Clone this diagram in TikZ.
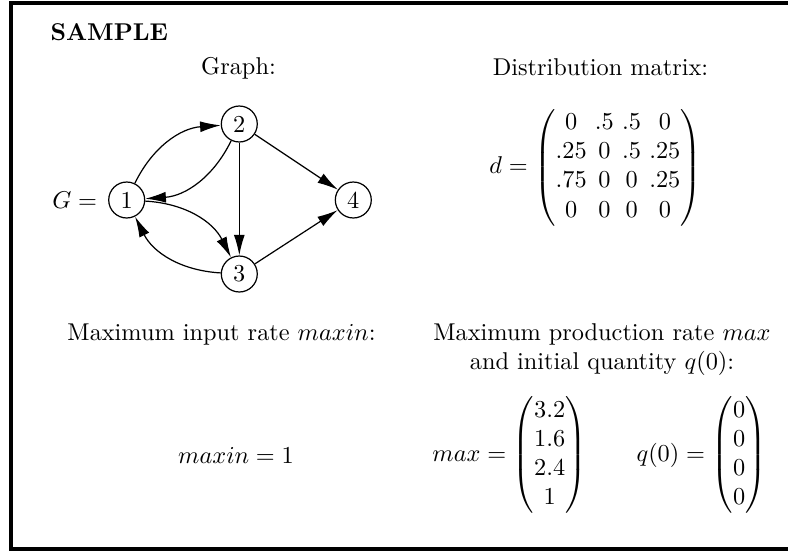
\documentclass[tikz,border=0pt]{standalone}
\usepackage{tikz}
\usetikzlibrary{positioning,arrows.meta}
\usepackage{amsmath,amssymb}

\begin{document}
\begin{tikzpicture}[
        x=0.4115pt, y=-0.4115pt,
        vertex/.style={circle, draw, line width=0.5pt, inner sep=0pt, minimum size=14.8pt},
        heading/.style={anchor=base},
        arc/.style={->, line width=0.5pt},
        >={Latex[length=8.5pt, width=4.5pt]},
        bend angle=30
    ]
    \useasboundingbox (0,0) rectangle (788,552);

    % Frame
    \draw[line width=1.3pt] (788,3) -- (11,3) -- (11,549) -- (788,549);
    \node[anchor=west, font=\bfseries] (title) at (42,32.5) {SAMPLE};

    % Top left - graph
    \node[heading] (graphhead) at (238.5,74) {Graph:};
    \node[vertex] (v1) at (126.7,200) {1};
    \node[vertex] (v2) at (239.3,124) {2};
    \node[vertex] (v3) at (239.3,274) {3};
    \node[vertex] (v4) at (353.3,200) {4};
    \node[left=1pt of v1] (geq) {$G =$};
    \draw[arc, bend left] (v1) to (v2);
    \draw[arc, bend left] (v2) to (v1);
    \draw[arc, bend left] (v1) to (v3);
    \draw[arc, bend left] (v3) to (v1);
    \draw[arc] (v2) -- (v3);
    \draw[arc] (v2) -- (v4);
    \draw[arc] (v3) -- (v4);

    % Top right - distribution matrix
    \node[heading] (matrixhead) at (600.5,75) {Distribution matrix:};
    \node (dmat) at (595.5,167.5) {\setlength{\arraycolsep}{1.7pt}$d = \begin{pmatrix}
        0 & .5 & .5 & 0\\
        .25 & 0 & .5 & .25\\
        .75 & 0 & 0 & .25\\
        0 & 0 & 0 & 0
    \end{pmatrix}$};

    % Bottom left - input rate
    \node[heading] (inhead) at (221.5,340) {Maximum input rate $maxin$:};
    \node[heading] (maxin) at (236,463) {$maxin = 1$};

    % Bottom right - production rate and initial quantity
    \node[heading] (prodhead) at (602,340) {Maximum production rate $max$};
    \node[heading] (qhead) at (602,369) {and initial quantity $q(0)$:};
    \node (maxvec) at (509.5,455) {$max = \begin{pmatrix} 3.2\\ 1.6\\ 2.4\\ 1 \end{pmatrix}$};
    \node (qvec) at (701.5,455) {$q(0) = \begin{pmatrix} 0\\ 0\\ 0\\ 0 \end{pmatrix}$};
\end{tikzpicture}
\end{document}
